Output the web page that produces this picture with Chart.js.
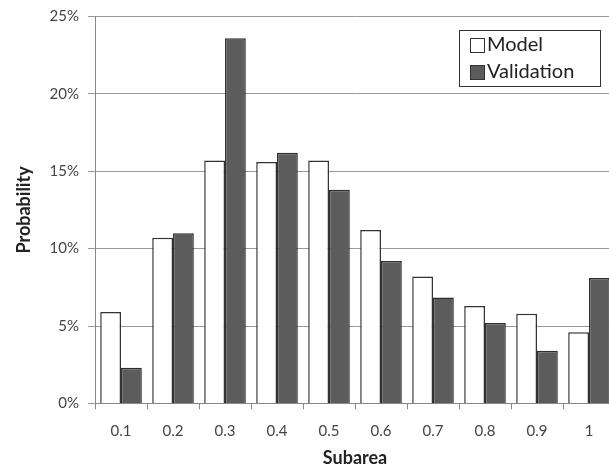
<!DOCTYPE html>
<html>
<head>
<meta charset="utf-8">
<script src="https://cdn.jsdelivr.net/npm/chart.js@4.4.0/dist/chart.umd.min.js"></script>
<style>
  html, body { margin: 0; padding: 0; background: #fff; overflow: hidden; }
  #wrap { width: 620px; height: 471px; }
</style>
</head>
<body>
<div id="wrap"><canvas id="chart" width="620" height="471"></canvas></div>
<script>
const subareas = ["0.1", "0.2", "0.3", "0.4", "0.5", "0.6", "0.7", "0.8", "0.9", "1"];
const modelValues = [5.9, 10.7, 15.7, 15.6, 15.7, 11.2, 8.2, 6.3, 5.8, 4.6];
const validationValues = [2.3, 11.0, 23.6, 16.2, 13.8, 9.2, 6.85, 5.2, 3.4, 8.1];
const yTicks = [0, 5, 10, 15, 20, 25];

const fontFamily = "Lato, 'Open Sans', sans-serif";

// legend drawn inside the plot, top right, with a box round it
const boxedLegend = {
  id: "boxedLegend",
  afterDraw(chart) {
    const ctx = chart.ctx;
    const sets = chart.data.datasets;
    const x0 = 459, y0 = 30, w = 141, h = 56;
    ctx.save();
    ctx.strokeStyle = "#333";
    ctx.lineWidth = 1;
    ctx.fillStyle = "#fff";
    ctx.fillRect(x0, y0, w, h);
    ctx.strokeRect(x0 + 0.5, y0 + 0.5, w, h);
    ctx.font = "20px " + fontFamily;
    ctx.textBaseline = "middle";
    sets.forEach(function (ds, i) {
      const cy = y0 + 15 + i * 27;
      ctx.fillStyle = ds.backgroundColor;
      ctx.fillRect(x0 + 11, cy - 7, 14, 14);
      ctx.strokeStyle = "#333";
      ctx.strokeRect(x0 + 11.5, cy - 6.5, 14, 14);
      ctx.fillStyle = "#222";
      ctx.fillText(ds.label, x0 + 28, cy);
    });
    ctx.restore();
  },
};

new Chart(document.getElementById("chart"), {
  type: "bar",
  data: {
    labels: subareas,
    datasets: [
      {
        label: "Model",
        data: modelValues,
        backgroundColor: "#ffffff",
        borderColor: "#333333",
        borderWidth: 1.5,
      },
      {
        label: "Validation",
        data: validationValues,
        backgroundColor: "#5c5c5c",
        borderColor: "#2e2e2e",
        borderWidth: 1.5,
      },
    ],
  },
  options: {
    responsive: false,
    animation: false,
    layout: { padding: { left: 13, right: 5, top: 0, bottom: 2 } },
    categoryPercentage: 0.8,
    barPercentage: 1.0,
    plugins: {
      legend: { display: false },
      tooltip: { enabled: false },
    },
    scales: {
      x: {
        grid: {
          offset: true,
          drawOnChartArea: false,
          drawTicks: true,
          tickLength: 6,
          color: "#888",
        },
        border: { color: "#888", width: 1 },
        ticks: { color: "#444", font: { family: fontFamily, size: 15 }, padding: 13 },
        title: {
          display: true,
          text: "Subarea",
          color: "#222",
          font: { family: fontFamily, size: 18, weight: "bold" },
          padding: { top: -6, bottom: 0 },
        },
      },
      y: {
        min: 0,
        max: 25,
        afterBuildTicks(axis) {
          axis.ticks = yTicks.map(function (v) { return { value: v }; });
        },
        grid: { color: "#999", tickLength: 7, lineWidth: 1 },
        border: { color: "#888", width: 1 },
        ticks: {
          color: "#444",
          font: { family: fontFamily, size: 15, lineHeight: 1.0 },
          padding: 9,
          callback: function (v) { return v + "%"; },
        },
        title: {
          display: true,
          text: "Probability",
          color: "#222",
          font: { family: fontFamily, size: 18, weight: "bold" },
          padding: { top: 0, bottom: 6 },
        },
      },
    },
  },
  plugins: [boxedLegend],
});
</script>
</body>
</html>
